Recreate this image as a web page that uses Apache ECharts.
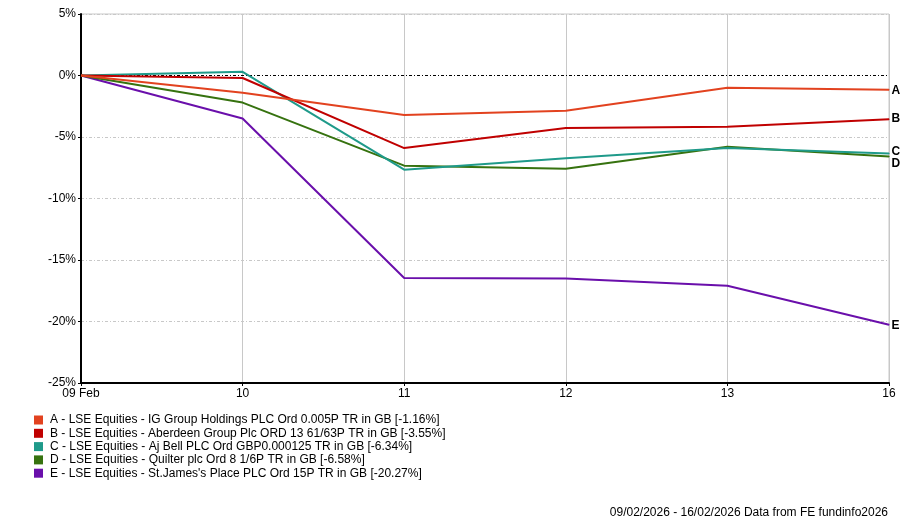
<!DOCTYPE html>
<html>
<head>
<meta charset="utf-8">
<script src="https://cdn.jsdelivr.net/npm/echarts@6/dist/echarts.min.js"></script>
<style>
html,body{margin:0;padding:0;background:#fff;}
#chart{width:900px;height:518px;}
</style>
</head>
<body>
<div id="chart"></div>
<script>
var categories = ['09 Feb', '10', '11', '12', '13', '16'];
var yTicks = [-25, -20, -15, -10, -5, 0, 5];
var seriesNames = [
  'A - LSE Equities - IG Group Holdings PLC Ord 0.005P TR in GB [-1.16%]',
  'B - LSE Equities - Aberdeen Group Plc ORD 13 61/63P TR in GB [-3.55%]',
  'C - LSE Equities - Aj Bell PLC Ord GBP0.000125 TR in GB [-6.34%]',
  'D - LSE Equities - Quilter plc Ord 8 1/6P TR in GB [-6.58%]',
  'E - LSE Equities - St.James\'s Place PLC Ord 15P TR in GB [-20.27%]'
];
var endLetters = ['A', 'B', 'C', 'D', 'E'];
var seriesA = [0, -1.4, -3.21, -2.86, -1.0, -1.16];
var seriesB = [0, -0.2, -5.9, -4.27, -4.16, -3.55];
var seriesC = [0, 0.3, -7.66, -6.73, -5.9, -6.34];
var seriesD = [0, -2.2, -7.33, -7.58, -5.8, -6.58];
var seriesE = [0, -3.5, -16.46, -16.5, -17.1, -20.27];
var footerText = '09/02/2026 - 16/02/2026 Data from FE fundinfo2026';

var colors = ['#E2421F', '#C00000', '#1F9A8A', '#36720F', '#6A0FAB'];
var allData = [seriesA, seriesB, seriesC, seriesD, seriesE];
var labelPos = [[3, -5], [3, -6], [3, -7], [3, 2], [3, -5]];
var FONT = 'Liberation Sans';

var series = allData.map(function (d, i) {
  var last = d.length - 1;
  var data = d.map(function (v, j) {
    if (j !== last) return { value: v, symbol: 'none' };
    return {
      value: v,
      symbol: 'rect',
      symbolSize: 1,
      label: {
        show: true,
        position: labelPos[i],
        align: 'left',
        verticalAlign: 'top',
        formatter: endLetters[i],
        color: '#000',
        fontFamily: FONT,
        fontSize: 12,
        fontWeight: 'bold'
      }
    };
  });
  var s = {
    name: seriesNames[i],
    type: 'line',
    data: data,
    symbol: 'rect',
    symbolSize: 1,
    showSymbol: true,
    showAllSymbol: true,
    smooth: false,
    clip: false,
    z: 10 - i,
    lineStyle: { color: colors[i], width: 2 },
    itemStyle: { color: colors[i] },
    labelLayout: { hideOverlap: false },
    emphasis: { disabled: true }
  };
  if (i === 0) {
    s.markLine = {
      silent: true,
      symbol: 'none',
      label: { show: false },
      lineStyle: { color: '#000', width: 1, type: [3, 2, 1, 2] },
      data: [{ yAxis: 0 }],
      z: 1
    };
  }
  return s;
});

var chart = echarts.init(document.getElementById('chart'), null, { renderer: 'canvas' });
chart.setOption({
  animation: false,
  backgroundColor: '#fff',
  color: colors,
  grid: {
    left: 81, right: 11, top: 14, bottom: 135,
    show: true, borderColor: '#c8c8c8', borderWidth: 1
  },
  xAxis: {
    type: 'category',
    data: categories,
    boundaryGap: false,
    axisLine: { show: true, onZero: false, lineStyle: { color: '#000', width: 2 } },
    axisTick: { show: true, length: 3, lineStyle: { color: '#000' } },
    axisLabel: { color: '#000', fontFamily: FONT, fontSize: 12, margin: 5 },
    splitLine: { show: true, lineStyle: { color: '#c8c8c8', width: 1 } }
  },
  yAxis: {
    type: 'value',
    min: yTicks[0],
    max: yTicks[yTicks.length - 1],
    interval: 5,
    axisLine: { show: true, lineStyle: { color: '#000', width: 2 } },
    axisTick: { show: true, length: 3, lineStyle: { color: '#000' } },
    axisLabel: { color: '#000', fontFamily: FONT, fontSize: 12, margin: 5, formatter: '{value}%' },
    splitLine: { show: true, lineStyle: { color: '#c8c8c8', width: 1, type: [3, 2, 1, 2] } }
  },
  legend: {
    show: true,
    orient: 'vertical',
    left: 34,
    top: 414,
    padding: 0,
    itemWidth: 9,
    itemHeight: 9,
    itemGap: 1.3,
    icon: 'rect',
    selectedMode: false,
    textStyle: { color: '#000', fontFamily: FONT, fontSize: 12, lineHeight: 12, padding: [0, 0, 0, 2] },
    data: seriesNames
  },
  graphic: [{
    type: 'text',
    right: 12,
    top: 507,
    style: { text: footerText, fill: '#000', font: '12px "' + FONT + '"' }
  }],
  series: series
});
</script>
</body>
</html>
